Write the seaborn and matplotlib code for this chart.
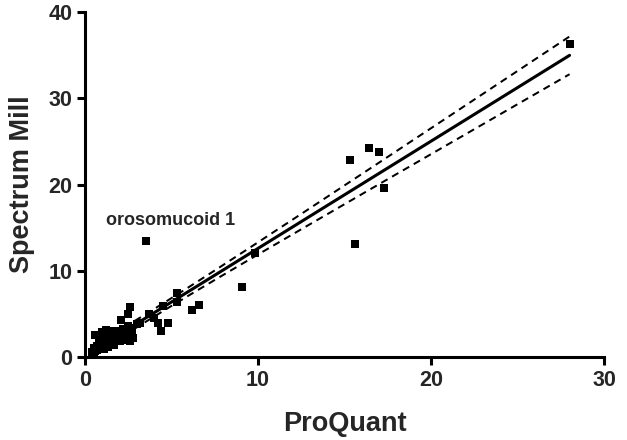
import numpy as np
import pandas as pd
import matplotlib
matplotlib.use("Agg")
import matplotlib.pyplot as plt
import seaborn as sns

# values (the low cluster overlaps a lot)
proquant = [0.4, 0.5, 0.6, 0.7, 0.6, 0.8, 0.9, 1.0, 1.0, 1.1, 1.2, 1.2, 1.3, 1.4,
            1.5, 1.5, 1.6, 1.7, 1.8, 1.9, 2.0, 2.0, 2.1, 2.2, 2.3, 2.4, 2.5, 2.5,
            2.6, 2.6, 2.7, 2.8, 3.0, 3.2, 0.8, 1.1, 0.5,
            0.7, 0.9, 1.0, 1.3, 1.4, 1.6, 1.8, 1.9, 2.1, 2.2, 2.4, 2.7, 0.6, 1.2,
            3.7, 4.0, 4.2, 4.4, 4.5, 4.8, 5.3, 5.3, 6.2, 6.6, 9.1, 9.8,
            3.5, 15.3, 15.6, 16.4, 17.0, 17.3, 28.0]
spectrum_mill = [0.6, 1.0, 0.8, 1.3, 2.6, 2.0, 1.5, 1.1, 2.9, 2.4, 1.7, 3.1, 1.2, 2.2,
                 3.0, 1.6, 2.6, 1.4, 2.0, 3.0, 2.4, 1.8, 4.3, 3.3, 2.7, 2.0, 5.0, 3.6,
                 5.8, 1.8, 2.9, 2.2, 3.8, 4.0, 1.0, 0.9, 0.3,
                 0.8, 1.0, 1.4, 1.6, 1.8, 2.0, 2.3, 2.5, 2.7, 2.8, 3.0, 3.4, 0.7, 1.4,
                 5.0, 4.5, 3.9, 3.0, 5.9, 4.0, 7.4, 6.4, 5.4, 6.0, 8.1, 12.1,
                 13.5, 22.9, 13.1, 24.2, 23.8, 19.6, 36.3]

df = pd.DataFrame({"ProQuant": proquant, "Spectrum Mill": spectrum_mill})

sns.set_style("ticks")
plt.rcParams['font.family'] = ['Liberation Sans', 'DejaVu Sans']

fig = plt.figure(figsize=(6.27, 4.4), dpi=100)
ax = fig.add_axes([0.1356, 0.1886, 0.828, 0.784])

sns.regplot(data=df, x="ProQuant", y="Spectrum Mill", ax=ax, ci=None,
            marker="s", color="black",
            scatter_kws={"s": 36, "linewidths": 0, "alpha": 1},
            line_kws={"linewidth": 2.2, "color": "black"})

# 95% confidence band of the fit
x = np.array(proquant)
y = np.array(spectrum_mill)
n = len(x)
slope, intercept = np.polyfit(x, y, 1)
resid = y - (slope * x + intercept)
s_err = np.sqrt(np.sum(resid ** 2) / (n - 2))
xs = np.linspace(x.min(), x.max(), 200)
half = 1.995 * s_err * np.sqrt(1 / n + (xs - x.mean()) ** 2 / np.sum((x - x.mean()) ** 2))
ax.plot(xs, slope * xs + intercept + half, color="black", linestyle=(0, (3.6, 2.6)), linewidth=1.45)
ax.plot(xs, slope * xs + intercept - half, color="black", linestyle=(0, (3.6, 2.6)), linewidth=1.45)

ax.text(1.2, 15.3, "orosomucoid 1", fontsize=13, fontweight="bold")

ax.set_xlim(0, 30)
ax.set_ylim(0, 40)
ax.set_xticks([0, 10, 20, 30])
ax.set_yticks([0, 10, 20, 30, 40])
ax.set_xlabel("ProQuant", fontsize=19.5, fontweight="bold", labelpad=15)
ax.set_ylabel("Spectrum Mill", fontsize=19.5, fontweight="bold", labelpad=9.5)
for lab in ax.get_xticklabels() + ax.get_yticklabels():
    lab.set_fontweight("bold")
    lab.set_fontsize(15.5)
ax.tick_params(width=2.2, length=6, color="black", pad=3)
for side in ["left", "bottom"]:
    ax.spines[side].set_linewidth(2.2)
    ax.spines[side].set_color("black")
sns.despine(ax=ax)

fig.savefig("out.png", dpi=100)
